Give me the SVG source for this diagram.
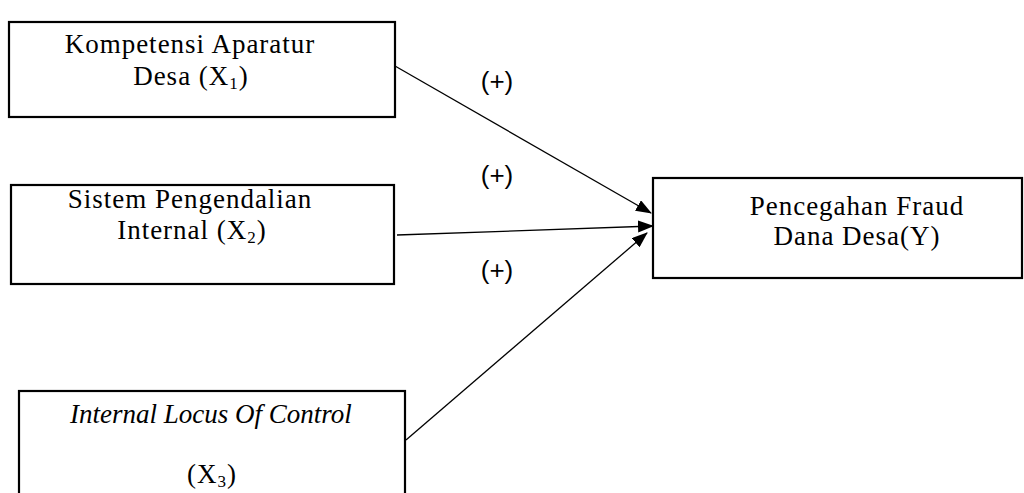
<svg xmlns="http://www.w3.org/2000/svg" width="1024" height="493" viewBox="0 0 1024 493">
<style>
.box{fill:#fff;stroke:#000;stroke-width:2.2}
.t{font-family:"Liberation Serif","Times New Roman",serif;font-size:27px;letter-spacing:1px;fill:#000;text-anchor:middle}
.it{font-style:italic;letter-spacing:0}
.sub{font-size:17px}
.lbl{font-family:"Liberation Sans",Arial,sans-serif;font-size:26px;fill:#000;text-anchor:middle}
.conn{stroke:#000;stroke-width:1.3;fill:none}
</style>
<defs>
<marker id="ah" markerWidth="16" markerHeight="12" refX="15" refY="6" orient="auto" markerUnits="userSpaceOnUse">
<path d="M0,0 L16,6 L0,12 Z" fill="#000"/>
</marker>
</defs>
<rect width="1024" height="493" fill="#fff"/>
<g id="connectors">
<line class="conn" x1="395" y1="66" x2="651" y2="213" marker-end="url(#ah)"/>
<line class="conn" x1="397" y1="235" x2="653" y2="226" marker-end="url(#ah)"/>
<line class="conn" x1="406" y1="440" x2="647" y2="233" marker-end="url(#ah)"/>
</g>
<g id="labels">
<text class="lbl" x="497" y="90">(+)</text>
<text class="lbl" x="497" y="184">(+)</text>
<text class="lbl" x="497" y="279">(+)</text>
</g>
<g id="x1">
<rect class="box" x="9" y="22" width="386" height="95"/>
<text class="t" x="190" y="53">Kompetensi Aparatur</text>
<text class="t" x="191" y="85">Desa (X<tspan class="sub" dy="4">1</tspan><tspan dy="-4">)</tspan></text>
</g>
<g id="x2">
<rect class="box" x="11" y="185" width="383" height="99"/>
<text class="t" x="190" y="208">Sistem Pengendalian</text>
<text class="t" x="192" y="239">Internal (X<tspan class="sub" dy="4">2</tspan><tspan dy="-4">)</tspan></text>
</g>
<g id="x3">
<rect class="box" x="19" y="391" width="386" height="110"/>
<text class="t it" x="211" y="423">Internal Locus Of Control</text>
<text class="t" x="212" y="483">(X<tspan class="sub" dy="4">3</tspan><tspan dy="-4">)</tspan></text>
</g>
<g id="y">
<rect class="box" x="653" y="178" width="369" height="100"/>
<text class="t" x="857" y="215">Pencegahan Fraud</text>
<text class="t" x="857" y="245">Dana Desa(Y)</text>
</g>
</svg>
